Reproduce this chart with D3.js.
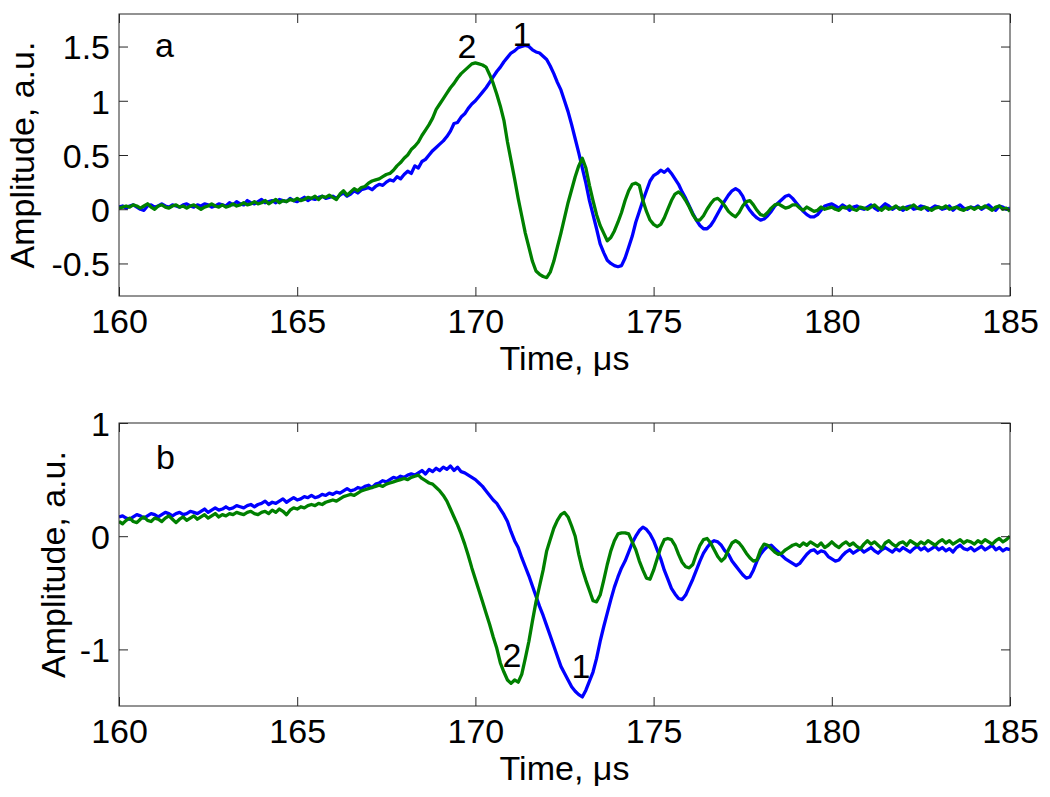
<!DOCTYPE html>
<html>
<head>
<meta charset="utf-8">
<script src="https://cdn.jsdelivr.net/npm/d3@7"></script>
<style>
  html, body { margin: 0; padding: 0; background: #ffffff; }
  svg { display: block; }
  text { font-family: "Liberation Sans", Arial, sans-serif; fill: #000; }
</style>
</head>
<body>
<svg id="chart" width="1050" height="797"></svg>
<script>
// ---------------- DATA ----------------
const tStart = 160, tStep = 0.1;           // time grid, μs
const xTicks = [160, 165, 170, 175, 180, 185];
const yTicksA = [-0.5, 0, 0.5, 1, 1.5];
const yTickLabelsA = ["-0.5", "0", "0.5", "1", "1.5"];
const yTicksB = [-1, 0, 1];
const yTickLabelsB = ["-1", "0", "1"];
const seriesNames = ["1", "2"];

// Panel a, curve 1 (blue)
const aBlue = [
0.02,0.03,0.01,0.03,0.04,0.02,0.00,-0.01,0.03,0.04,
0.02,0.03,0.05,0.03,0.02,0.04,0.03,0.02,0.04,0.05,
0.03,0.02,0.04,0.03,0.05,0.04,0.02,0.03,0.05,0.04,
0.03,0.06,0.04,0.07,0.05,0.04,0.08,0.06,0.05,0.07,
0.09,0.06,0.07,0.08,0.06,0.09,0.08,0.07,0.10,0.08,
0.07,0.09,0.11,0.08,0.10,0.09,0.11,0.12,0.10,0.11,
0.12,0.10,0.13,0.15,0.12,0.14,0.17,0.15,0.18,0.19,
0.20,0.18,0.21,0.23,0.22,0.25,0.27,0.26,0.30,0.28,
0.32,0.35,0.33,0.40,0.38,0.44,0.46,0.50,0.54,0.57,
0.60,0.63,0.67,0.72,0.79,0.80,0.85,0.88,0.93,0.97,
1.00,1.04,1.08,1.12,1.17,1.22,1.27,1.31,1.36,1.40,
1.44,1.46,1.49,1.50,1.51,1.50,1.47,1.45,1.44,1.41,
1.38,1.32,1.25,1.17,1.10,1.00,0.90,0.78,0.65,0.52,
0.38,0.24,0.08,-0.05,-0.18,-0.32,-0.40,-0.47,-0.50,-0.52,
-0.53,-0.52,-0.45,-0.35,-0.25,-0.12,-0.02,0.08,0.17,0.26,
0.31,0.33,0.36,0.34,0.37,0.33,0.28,0.23,0.16,0.10,
0.03,-0.04,-0.10,-0.15,-0.18,-0.18,-0.15,-0.10,-0.04,0.02,
0.08,0.13,0.17,0.19,0.17,0.12,0.04,-0.01,-0.05,-0.08,
-0.10,-0.09,-0.06,-0.02,0.03,0.06,0.09,0.12,0.13,0.10,
0.06,0.02,-0.02,-0.05,-0.07,-0.07,-0.05,-0.01,0.03,0.04,
0.05,0.03,0.01,0.04,0.02,-0.01,0.02,0.03,0.01,0.00,
0.02,0.04,0.01,-0.01,0.02,0.05,0.03,0.00,0.02,0.01,
-0.01,0.02,0.03,0.00,0.01,0.03,0.02,-0.01,0.01,0.03,
0.02,0.00,0.01,0.03,-0.01,0.02,0.04,0.01,0.00,0.02,
0.01,0.03,0.00,0.02,0.04,0.01,-0.01,0.03,0.02,0.00,
0.01];

// Panel a, curve 2 (green)
const aGreen = [
0.01,0.02,0.03,0.02,0.04,0.03,0.01,0.03,0.05,0.02,
0.00,0.03,0.04,0.02,0.01,0.03,0.04,0.02,0.03,0.01,
0.03,0.04,0.02,0.00,0.02,0.03,0.05,0.03,0.02,0.04,
0.02,0.03,0.05,0.03,0.04,0.06,0.04,0.05,0.07,0.05,
0.06,0.08,0.05,0.07,0.09,0.06,0.08,0.07,0.09,0.08,
0.10,0.08,0.09,0.11,0.10,0.12,0.09,0.12,0.11,0.13,
0.11,0.09,0.14,0.17,0.13,0.16,0.19,0.17,0.20,0.21,
0.24,0.26,0.27,0.28,0.30,0.32,0.33,0.36,0.40,0.43,
0.47,0.50,0.55,0.58,0.62,0.68,0.73,0.78,0.84,0.92,
0.97,1.02,1.07,1.12,1.16,1.21,1.25,1.28,1.31,1.34,
1.35,1.34,1.33,1.31,1.24,1.16,1.06,0.95,0.82,0.62,
0.45,0.28,0.10,-0.06,-0.22,-0.35,-0.48,-0.57,-0.60,-0.62,
-0.63,-0.58,-0.48,-0.35,-0.22,-0.08,0.06,0.18,0.30,0.40,
0.47,0.38,0.22,0.08,-0.05,-0.15,-0.22,-0.29,-0.26,-0.20,
-0.12,-0.03,0.08,0.17,0.23,0.24,0.22,0.08,-0.02,-0.10,
-0.14,-0.16,-0.14,-0.08,0.00,0.08,0.14,0.16,0.13,0.08,
0.02,-0.05,-0.10,-0.10,-0.06,0.00,0.05,0.09,0.10,0.07,
0.03,-0.02,-0.05,-0.07,-0.03,0.03,0.07,0.08,0.04,-0.01,
-0.05,-0.06,-0.03,0.01,0.04,0.05,0.03,0.01,0.02,0.04,
0.04,0.01,-0.01,0.02,0.00,-0.02,-0.01,0.02,0.00,0.01,
0.02,0.00,-0.01,0.02,0.01,0.03,0.00,-0.01,0.02,0.01,
0.00,0.02,0.04,0.01,-0.01,0.02,0.00,0.01,0.03,0.00,
0.02,0.00,0.02,0.04,0.01,0.00,0.02,0.01,-0.01,0.01,
0.02,0.01,0.03,0.00,0.01,0.02,0.00,-0.01,0.01,0.02,
0.00,0.02,0.01,0.03,0.01,-0.01,0.02,0.03,0.00,0.01,
-0.02];

// Panel b, curve 1 (blue)
const bBlue = [
0.17,0.18,0.16,0.15,0.17,0.19,0.18,0.16,0.18,0.20,
0.19,0.17,0.19,0.21,0.20,0.18,0.20,0.21,0.19,0.20,
0.22,0.21,0.20,0.22,0.24,0.21,0.23,0.25,0.23,0.24,
0.26,0.24,0.25,0.27,0.26,0.25,0.27,0.28,0.26,0.28,
0.29,0.31,0.28,0.30,0.29,0.31,0.33,0.30,0.32,0.34,
0.32,0.33,0.35,0.34,0.36,0.34,0.35,0.37,0.36,0.38,
0.37,0.39,0.38,0.40,0.42,0.40,0.41,0.43,0.42,0.44,
0.45,0.43,0.46,0.47,0.49,0.48,0.50,0.52,0.51,0.53,
0.52,0.54,0.55,0.54,0.56,0.58,0.55,0.59,0.57,0.60,
0.58,0.61,0.59,0.62,0.58,0.61,0.57,0.56,0.54,0.52,
0.50,0.47,0.44,0.40,0.36,0.32,0.29,0.24,0.19,0.13,
0.04,-0.04,-0.10,-0.19,-0.27,-0.35,-0.44,-0.53,-0.62,-0.70,
-0.79,-0.88,-0.97,-1.06,-1.15,-1.21,-1.27,-1.33,-1.37,-1.40,
-1.42,-1.36,-1.28,-1.20,-1.08,-0.93,-0.80,-0.68,-0.56,-0.45,
-0.36,-0.28,-0.22,-0.14,-0.06,0.00,0.05,0.08,0.06,0.02,
-0.04,-0.12,-0.20,-0.30,-0.38,-0.46,-0.51,-0.55,-0.56,-0.52,
-0.45,-0.38,-0.30,-0.22,-0.15,-0.10,-0.06,-0.04,-0.05,-0.08,
-0.13,-0.16,-0.22,-0.26,-0.30,-0.34,-0.37,-0.36,-0.30,-0.22,
-0.16,-0.12,-0.09,-0.08,-0.11,-0.14,-0.17,-0.20,-0.22,-0.24,
-0.26,-0.24,-0.20,-0.16,-0.13,-0.12,-0.15,-0.13,-0.14,-0.18,
-0.20,-0.22,-0.21,-0.17,-0.14,-0.12,-0.15,-0.13,-0.11,-0.14,
-0.12,-0.10,-0.13,-0.15,-0.12,-0.10,-0.12,-0.14,-0.11,-0.13,
-0.10,-0.12,-0.14,-0.11,-0.09,-0.12,-0.10,-0.13,-0.11,-0.09,
-0.12,-0.10,-0.13,-0.11,-0.14,-0.10,-0.08,-0.11,-0.12,-0.10,
-0.13,-0.11,-0.09,-0.12,-0.10,-0.08,-0.12,-0.10,-0.13,-0.11,
-0.12];

// Panel b, curve 2 (green)
const bGreen = [
0.13,0.11,0.14,0.16,0.13,0.12,0.15,0.17,0.14,0.13,
0.16,0.15,0.13,0.16,0.18,0.15,0.12,0.15,0.17,0.14,
0.16,0.18,0.15,0.17,0.19,0.16,0.18,0.20,0.17,0.19,
0.18,0.20,0.19,0.21,0.20,0.19,0.21,0.22,0.20,0.19,
0.21,0.22,0.20,0.23,0.21,0.24,0.22,0.19,0.23,0.25,
0.24,0.26,0.25,0.27,0.28,0.27,0.29,0.28,0.30,0.31,
0.32,0.31,0.33,0.35,0.36,0.37,0.36,0.38,0.40,0.41,
0.42,0.43,0.44,0.45,0.44,0.46,0.47,0.48,0.49,0.50,
0.51,0.50,0.52,0.53,0.54,0.51,0.49,0.47,0.46,0.43,
0.40,0.36,0.31,0.24,0.17,0.10,0.02,-0.07,-0.17,-0.28,
-0.38,-0.48,-0.58,-0.68,-0.78,-0.89,-0.99,-1.12,-1.20,-1.27,
-1.30,-1.27,-1.29,-1.22,-1.08,-0.93,-0.75,-0.58,-0.44,-0.30,
-0.13,-0.03,0.07,0.14,0.19,0.21,0.17,0.09,0.00,-0.16,
-0.29,-0.39,-0.48,-0.57,-0.58,-0.52,-0.39,-0.25,-0.13,-0.04,
0.02,0.03,0.03,0.02,-0.05,-0.12,-0.22,-0.30,-0.37,-0.38,
-0.30,-0.20,-0.10,-0.03,-0.02,-0.03,-0.08,-0.16,-0.23,-0.27,
-0.28,-0.25,-0.16,-0.08,-0.03,-0.02,-0.06,-0.12,-0.18,-0.22,
-0.19,-0.12,-0.06,-0.04,-0.06,-0.10,-0.15,-0.19,-0.22,-0.21,
-0.12,-0.07,-0.08,-0.11,-0.14,-0.16,-0.15,-0.12,-0.10,-0.08,
-0.07,-0.09,-0.06,-0.08,-0.05,-0.07,-0.09,-0.06,-0.10,-0.08,
-0.05,-0.08,-0.10,-0.07,-0.05,-0.08,-0.06,-0.09,-0.11,-0.07,
-0.04,-0.07,-0.05,-0.08,-0.11,-0.06,-0.04,-0.07,-0.09,-0.06,
-0.05,-0.08,-0.04,-0.06,-0.08,-0.05,-0.07,-0.04,-0.06,-0.08,
-0.05,-0.03,-0.06,-0.04,-0.07,-0.05,-0.03,-0.06,-0.04,-0.05,
-0.07,-0.04,-0.06,-0.03,-0.05,-0.07,-0.04,-0.02,-0.05,-0.03,
0.00];

// ---------------- DRAWING ----------------
const svg = d3.select("#chart");
const FONT = 34;
const BLUE = "#0000ff", GREEN = "#008000";
const left = 119, right = 1010;

const panels = [
  { id: "a", top: 14, bottom: 296, domain: [-0.8, 1.8], ticks: yTicksA, tickLabels: yTickLabelsA,
    series: [aBlue, aGreen], ylabX: 34,
    letter: { x: 155, y: 57 },
    nums: [ { text: seriesNames[0], x: 522, y: 46 }, { text: seriesNames[1], x: 467, y: 58 } ] },
  { id: "b", top: 423, bottom: 706, domain: [-1.5, 1], ticks: yTicksB, tickLabels: yTickLabelsB,
    series: [bBlue, bGreen], ylabX: 65,
    letter: { x: 156, y: 469 },
    nums: [ { text: seriesNames[0], x: 581, y: 678 }, { text: seriesNames[1], x: 512, y: 667 } ] }
];

const x = d3.scaleLinear().domain([160, 185]).range([left, right]);

panels.forEach((p, pi) => {
  const y = d3.scaleLinear().domain(p.domain).range([p.bottom, p.top]);
  const g = svg.append("g");

  const clipId = "clip" + pi;
  svg.append("defs").append("clipPath").attr("id", clipId)
    .append("rect").attr("x", left).attr("y", p.top)
    .attr("width", right - left).attr("height", p.bottom - p.top);

  const line = d3.line()
    .x((d, i) => x(tStart + i * tStep))
    .y(d => y(d));
  const colors = [BLUE, GREEN];
  const lg = g.append("g").attr("clip-path", `url(#${clipId})`);
  p.series.forEach((s, si) => {
    lg.append("path").datum(s)
      .attr("d", line)
      .attr("fill", "none")
      .attr("stroke", colors[si])
      .attr("stroke-width", 3.3)
      .attr("stroke-linejoin", "round");
  });

  const axStyle = sel => {
    sel.select(".domain").remove();
    sel.selectAll(".tick line").attr("stroke", "#262626").attr("stroke-width", 1);
    sel.selectAll("text").style("font-family", '"Liberation Sans", Arial, sans-serif')
      .style("font-size", FONT + "px").attr("fill", "#000");
  };
  const xb = g.append("g").attr("transform", `translate(0,${p.bottom})`)
    .call(d3.axisBottom(x).tickValues(xTicks).tickSize(-9).tickPadding(13).tickFormat(d3.format("d")))
    .call(axStyle);
  xb.selectAll("text").attr("y", 37).attr("dy", 0);
  g.append("g").attr("transform", `translate(0,${p.top})`)
    .call(d3.axisTop(x).tickValues(xTicks).tickSize(-9).tickFormat(""))
    .call(axStyle);
  const yl = g.append("g").attr("transform", `translate(${left},0)`)
    .call(d3.axisLeft(y).tickValues(p.ticks).tickSize(-9).tickPadding(18)
      .tickFormat((d, i) => p.tickLabels[i]))
    .call(axStyle);
  yl.selectAll("text").attr("x", -9).attr("dy", "0.36em");
  g.append("g").attr("transform", `translate(${right},0)`)
    .call(d3.axisRight(y).tickValues(p.ticks).tickSize(-9).tickFormat(""))
    .call(axStyle);

  g.append("rect").attr("x", left).attr("y", p.top)
    .attr("width", right - left).attr("height", p.bottom - p.top)
    .attr("fill", "none").attr("stroke", "#262626").attr("stroke-width", 1);

  g.append("text").attr("x", (left + right) / 2).attr("y", p.bottom + 74)
    .attr("text-anchor", "middle").style("font-size", FONT + "px")
    .text("Time, μs");
  g.append("text")
    .attr("transform", `translate(${p.ylabX},${(p.top + p.bottom) / 2}) rotate(-90)`)
    .attr("text-anchor", "middle").style("font-size", FONT + "px")
    .text("Amplitude, a.u.");

  g.append("text").attr("x", p.letter.x).attr("y", p.letter.y)
    .style("font-size", FONT + "px").text(p.id);

  p.nums.forEach(n => {
    g.append("text").attr("x", n.x).attr("y", n.y).attr("text-anchor", "middle")
      .style("font-size", FONT + "px").text(n.text);
  });
});
</script>
</body>
</html>
